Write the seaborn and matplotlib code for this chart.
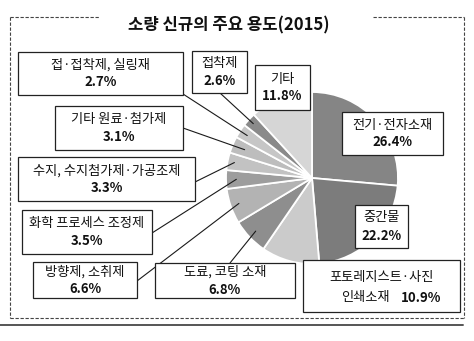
import matplotlib
matplotlib.use("Agg")
import matplotlib.pyplot as plt
import seaborn as sns
import numpy as np
from matplotlib.patches import Rectangle

# ---- data ----
categories = ["전기·전자소재", "중간물", "포토레지스트·사진 인쇄소재", "도료, 코팅 소재",
              "방향제, 소취제", "화학 프로세스 조정제", "수지, 수지첨가제·가공조제",
              "기타 원료·첨가제", "접·접착제, 실링재", "접착제", "기타"]
shares = [26.4, 22.2, 10.9, 6.8, 6.6, 3.5, 3.3, 3.1, 2.7, 2.6, 11.8]
title = "소량 신규의 주요 용도(2015)"

# ---- style ----
sns.set_theme(style="white")
plt.rcParams['font.family'] = ['Noto Sans CJK KR', 'DejaVu Sans']

W, H = 474, 341
fig = plt.figure(figsize=(W / 100, H / 100), dpi=100)
ax = fig.add_axes([0, 0, 1, 1])

def Y(y):
    return H - y

colors = ["#858585", "#7c7c7c", "#cbcbcb", "#8e8e8e", "#b3b3b3", "#9d9d9d",
          "#c2c2c2", "#bdbdbd", "#c6c6c6", "#8a8a8a", "#d6d6d6"]

cx, cy, R = 312, 178, 86
wedges, _ = ax.pie(shares, colors=colors, startangle=90, counterclock=False,
                   center=(cx, Y(cy)), radius=R,
                   wedgeprops=dict(edgecolor="white", linewidth=1.3))
for w in wedges:
    w.set_zorder(2)

# label boxes: (x0, y0, x1, y1) in image coords, line1 text, connector anchor + radial frac
boxes = {
    0: ((342, 112, 443, 155), "전기·전자소재", None),
    1: ((355, 205, 408, 248), "중간물", None),
    2: ((303, 260, 460, 312), "포토레지스트·사진", None),
    3: ((155, 263, 295, 298), "도료, 코팅 소재", ((230, 263), 0.9)),
    4: ((33, 262, 137, 298), "방향제, 소취제", ((137, 281), 0.9)),
    5: ((22, 210, 152, 254), "화학 프로세스 조정제", ((152, 233), 0.88)),
    6: ((18, 157, 195, 201), "수지, 수지첨가제·가공조제", ((195, 182), 0.92)),
    7: ((55, 106, 183, 150), "기타 원료·첨가제", ((183, 128), 0.85)),
    8: ((18, 52, 183, 95), "접·접착제, 실링재", ((183, 94), 0.9)),
    9: ((192, 51, 247, 93), "접착제", ((220, 93), 0.93)),
    10: ((255, 65, 310, 110), "기타", None),
}

fs = 9.5
txt = dict(fontsize=fs, color="#111111", zorder=5, va="center", fontweight="medium")
for i, (rect, line1, conn) in boxes.items():
    x0, y0, x1, y1 = rect
    ax.add_patch(Rectangle((x0, Y(y1)), x1 - x0, y1 - y0, facecolor="white",
                           edgecolor="#222222", linewidth=0.9, zorder=4))
    pct = f"{shares[i]:.1f}%"
    xc = (x0 + x1) / 2
    yc = (y0 + y1) / 2
    if i == 2:
        ax.text(xc, Y(y0 + 17), line1, ha="center", **txt)
        ax.text(365, Y(y1 - 14), "인쇄소재", ha="center", **txt)
        ax.text(421, Y(y1 - 14), pct, ha="center", fontsize=fs, color="#111111",
                zorder=5, va="center", fontweight="bold")
    else:
        ax.text(xc, Y(yc - 8.5), line1, ha="center", **txt)
        ax.text(xc, Y(yc + 9), pct, ha="center", va="center", fontsize=fs,
                fontweight="bold", color="#111111", zorder=5)
    if conn is not None:
        (axp, ayp), frac = conn
        w = wedges[i]
        mid = np.deg2rad((w.theta1 + w.theta2) / 2)
        px = cx + frac * R * np.cos(mid)
        py = Y(cy) + frac * R * np.sin(mid)
        ax.plot([axp, px], [Y(ayp), py], color="#1a1a1a", lw=0.8, zorder=3)

# title
ax.text(229, Y(25), title, ha="center", va="center", fontsize=12,
        fontweight="bold", color="#111111", zorder=5)

# dashed frame with gap for title
dash = dict(color="#444444", lw=0.8, linestyle=(0, (3, 1.5)), zorder=1)
ax.plot([10, 100], [Y(17), Y(17)], **dash)
ax.plot([373, 464], [Y(17), Y(17)], **dash)
ax.plot([10, 10], [Y(17), Y(318)], **dash)
ax.plot([464, 464], [Y(17), Y(318)], **dash)
ax.plot([10, 464], [Y(318), Y(318)], **dash)
# bottom solid rule
ax.plot([0, 463], [Y(325), Y(325)], color="#555555", lw=1.4, zorder=1)

ax.set_xlim(0, W)
ax.set_ylim(0, H)
ax.set_aspect("equal")
ax.axis("off")

fig.savefig("out.png", dpi=100, facecolor="white")
